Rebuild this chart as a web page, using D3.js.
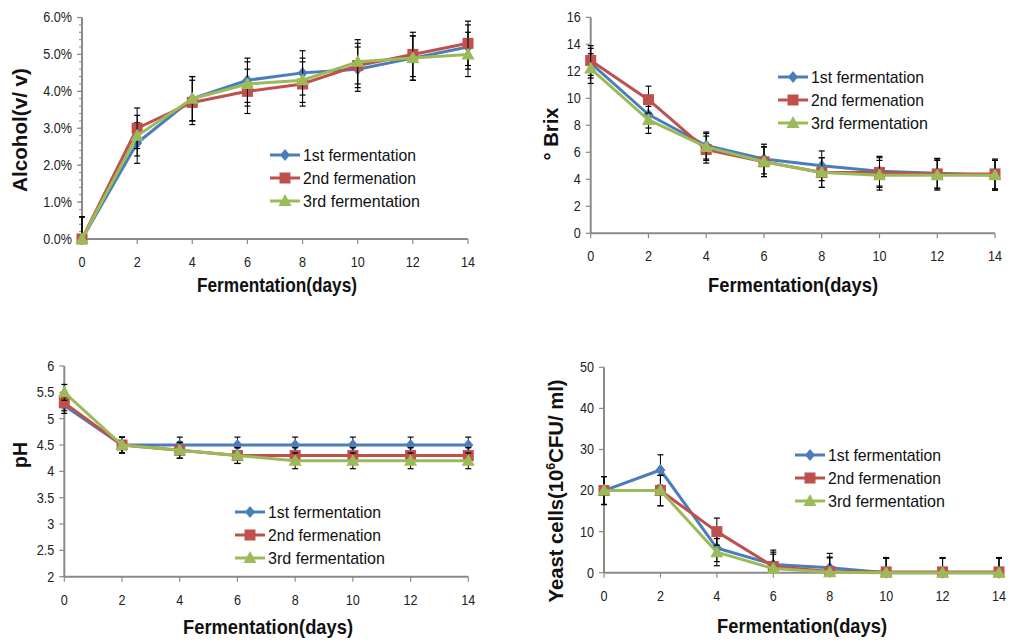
<!DOCTYPE html>
<html>
<head>
<meta charset="utf-8">
<script src="https://d3js.org/d3.v7.min.js"></script>
<style>
  body { margin: 0; background: #fff; }
  text { font-family: "Liberation Sans", Arial, sans-serif; }
</style>
</head>
<body>
<svg width="1015" height="644"></svg>
<script>
const days = [0, 2, 4, 6, 8, 10, 12, 14];
const seriesNames = ["1st fermentation", "2nd fermenation", "3rd fermentation"];
const colors = ["#4a7ebb", "#c0504d", "#9bbb59"];

// Alcohol (%)
const alcohol1 = [0, 2.6, 3.8, 4.3, 4.5, 4.6, 4.9, 5.2];
const alcohol2 = [0, 3.0, 3.7, 4.0, 4.2, 4.7, 5.0, 5.3];
const alcohol3 = [0, 2.8, 3.8, 4.2, 4.3, 4.8, 4.9, 5.0];
const alcoholErr = [0.6, 0.55, 0.6, 0.6, 0.6, 0.6, 0.6, 0.6];

// Brix
const brix1 = [12.6, 8.8, 6.5, 5.5, 5.0, 4.6, 4.45, 4.3];
const brix2 = [12.8, 9.9, 6.2, 5.3, 4.5, 4.5, 4.4, 4.4];
const brix3 = [12.2, 8.4, 6.4, 5.3, 4.5, 4.3, 4.3, 4.3];
const brixErr = [1.1, 1.0, 1.0, 1.1, 1.1, 1.1, 1.1, 1.1];

// pH
const ph1 = [5.25, 4.5, 4.5, 4.5, 4.5, 4.5, 4.5, 4.5];
const ph2 = [5.3, 4.5, 4.4, 4.3, 4.3, 4.3, 4.3, 4.3];
const ph3 = [5.5, 4.5, 4.4, 4.3, 4.2, 4.2, 4.2, 4.2];
const phErr = [0.15, 0.15, 0.15, 0.15, 0.15, 0.15, 0.15, 0.15];

// Yeast cells (10^6 CFU/ml)
const yeast1 = [20, 25, 6, 2, 1.2, 0, 0, 0];
const yeast2 = [20, 20, 10, 1.5, 0.3, 0.2, 0.2, 0.2];
const yeast3 = [20, 20, 5, 1, 0.1, 0, 0, 0];
const yeastErr = [3.4, 3.7, 3.3, 3.5, 3.5, 3.5, 3.5, 3.5];

const svg = d3.select("svg");

const panels = [
  { series: [alcohol1, alcohol2, alcohol3], err: alcoholErr,
    xr: [82, 468], yr: [239, 17.5], yd: [0, 6], step: 1, minor: 0.2,
    fmt: d => d.toFixed(1) + "%",
    xTitle: { x: 277, y: 292, w: 160 },
    yTitle: { x: 27, y: 130, w: 124, text: "Alcohol(v/ v)" },
    legend: { x: 270, y: 155 } },
  { series: [brix1, brix2, brix3], err: brixErr,
    xr: [590.7, 995], yr: [233.3, 17.3], yd: [0, 16], step: 2,
    fmt: d => d,
    xTitle: { x: 793, y: 292, w: 170 },
    yTitle: { x: 558, y: 134, w: 53, text: "° Brix" },
    legend: { x: 778, y: 77 } },
  { series: [ph1, ph2, ph3], err: phErr,
    xr: [64.3, 468.3], yr: [576.7, 366], yd: [2, 6], step: 0.5,
    fmt: d => d,
    xTitle: { x: 268, y: 634, w: 170 },
    yTitle: { x: 27, y: 455, w: 26, text: "pH" },
    legend: { x: 235, y: 512 } },
  { series: [yeast1, yeast2, yeast3], err: yeastErr,
    xr: [604, 999], yr: [572.7, 367.3], yd: [0, 50], step: 10,
    fmt: d => d,
    xTitle: { x: 802, y: 633, w: 170 },
    yTitle: { x: 563, y: 491, w: 223, yeast: true },
    legend: { x: 795, y: 455 } }
];

const axisColor = "#8a8a8a";

function marker(g, i, x, y) {
  const c = colors[i];
  if (i === 0) {
    g.append("path").attr("d", `M${x},${y - 6}L${x + 5},${y}L${x},${y + 6}L${x - 5},${y}Z`).attr("fill", c);
  } else if (i === 1) {
    g.append("rect").attr("x", x - 5.5).attr("y", y - 5.5).attr("width", 11).attr("height", 11).attr("fill", c);
  } else {
    g.append("path").attr("d", `M${x},${y - 7}L${x + 6.5},${y + 5}L${x - 6.5},${y + 5}Z`).attr("fill", c);
  }
}

function squeeze(sel, w) {
  sel.attr("textLength", w).attr("lengthAdjust", "spacingAndGlyphs");
}

// narrow the tick labels a little, like the original
function narrow(sel) {
  const w = sel.node().getComputedTextLength();
  squeeze(sel, w * 0.9);
}

panels.forEach(p => {
  const x = d3.scaleLinear().domain([0, 14]).range(p.xr);
  const y = d3.scaleLinear().domain(p.yd).range(p.yr);
  const g = svg.append("g");

  // y axis
  g.append("line").attr("x1", p.xr[0]).attr("x2", p.xr[0]).attr("y1", p.yr[0]).attr("y2", p.yr[1])
    .attr("stroke", axisColor).attr("stroke-width", 2);
  const yt = d3.range(p.yd[0], p.yd[1] + p.step / 2, p.step);
  if (p.minor) {
    d3.range(p.yd[0], p.yd[1] + p.minor / 2, p.minor).forEach(v => {
      g.append("line").attr("x1", p.xr[0] - 3).attr("x2", p.xr[0]).attr("y1", y(v)).attr("y2", y(v))
        .attr("stroke", axisColor).attr("stroke-width", 1);
    });
  }
  yt.forEach(v => {
    g.append("line").attr("x1", p.xr[0] - 5).attr("x2", p.xr[0]).attr("y1", y(v)).attr("y2", y(v))
      .attr("stroke", axisColor).attr("stroke-width", 1.2);
    narrow(g.append("text").attr("x", p.xr[0] - 10).attr("y", y(v)).attr("dy", "0.35em")
      .attr("text-anchor", "end").attr("font-size", 14).attr("fill", "#222").text(p.fmt(v)));
  });

  // x axis
  g.append("line").attr("x1", p.xr[0]).attr("x2", p.xr[1]).attr("y1", p.yr[0]).attr("y2", p.yr[0])
    .attr("stroke", axisColor).attr("stroke-width", 2);
  days.forEach(d => {
    g.append("line").attr("x1", x(d)).attr("x2", x(d)).attr("y1", p.yr[0]).attr("y2", p.yr[0] + 5)
      .attr("stroke", axisColor).attr("stroke-width", 1.2);
    narrow(g.append("text").attr("x", x(d)).attr("y", p.yr[0] + 23).attr("dy", "0.35em")
      .attr("text-anchor", "middle").attr("font-size", 14).attr("fill", "#222").text(d));
  });

  // titles
  squeeze(g.append("text").attr("x", p.xTitle.x).attr("y", p.xTitle.y).attr("text-anchor", "middle")
    .attr("font-size", 21).attr("font-weight", "bold").attr("fill", "#111").text("Fermentation(days)"), p.xTitle.w);

  const yt0 = g.append("text").attr("transform", `translate(${p.yTitle.x},${p.yTitle.y}) rotate(-90)`)
    .attr("text-anchor", "middle").attr("font-size", 21).attr("font-weight", "bold").attr("fill", "#111");
  if (p.yTitle.yeast) {
    yt0.append("tspan").text("Yeast cells(10");
    yt0.append("tspan").attr("font-size", 13).attr("dy", -8).text("6");
    yt0.append("tspan").attr("dy", 8).text("CFU/ ml)");
  } else {
    yt0.text(p.yTitle.text);
  }
  squeeze(yt0, p.yTitle.w);

  // error bars are cut at the plot edges
  const lo = p.yd[0], hi = p.yd[1];
  const clamp = v => Math.max(lo, Math.min(hi, v));

  p.series.forEach((vals, i) => {
    const sg = g.append("g");
    const line = d3.line().x((v, k) => x(days[k])).y(v => y(v));
    sg.append("path").datum(vals).attr("d", line).attr("fill", "none")
      .attr("stroke", colors[i]).attr("stroke-width", 3).attr("stroke-linejoin", "round");
    vals.forEach((v, k) => {
      const e = p.err[k];
      const top = clamp(v + e), bot = clamp(v - e);
      const cx = x(days[k]);
      sg.append("line").attr("x1", cx).attr("x2", cx).attr("y1", y(top)).attr("y2", y(bot))
        .attr("stroke", "#000").attr("stroke-width", 1);
      if (v + e <= hi) sg.append("line").attr("x1", cx - 3).attr("x2", cx + 3).attr("y1", y(top)).attr("y2", y(top))
        .attr("stroke", "#000").attr("stroke-width", 1.2);
      if (v - e >= lo) sg.append("line").attr("x1", cx - 3).attr("x2", cx + 3).attr("y1", y(bot)).attr("y2", y(bot))
        .attr("stroke", "#000").attr("stroke-width", 1.2);
      marker(sg, i, cx, y(v));
    });
  });

  // legend
  seriesNames.forEach((name, i) => {
    const ly = p.legend.y + i * 23;
    g.append("line").attr("x1", p.legend.x).attr("x2", p.legend.x + 30).attr("y1", ly).attr("y2", ly)
      .attr("stroke", colors[i]).attr("stroke-width", 3);
    marker(g, i, p.legend.x + 15, ly);
    squeeze(g.append("text").attr("x", p.legend.x + 33).attr("y", ly).attr("dy", "0.36em")
      .attr("font-size", 17).attr("fill", "#111").text(name), i === 2 ? 117 : 113);
  });
});
</script>
</body>
</html>
